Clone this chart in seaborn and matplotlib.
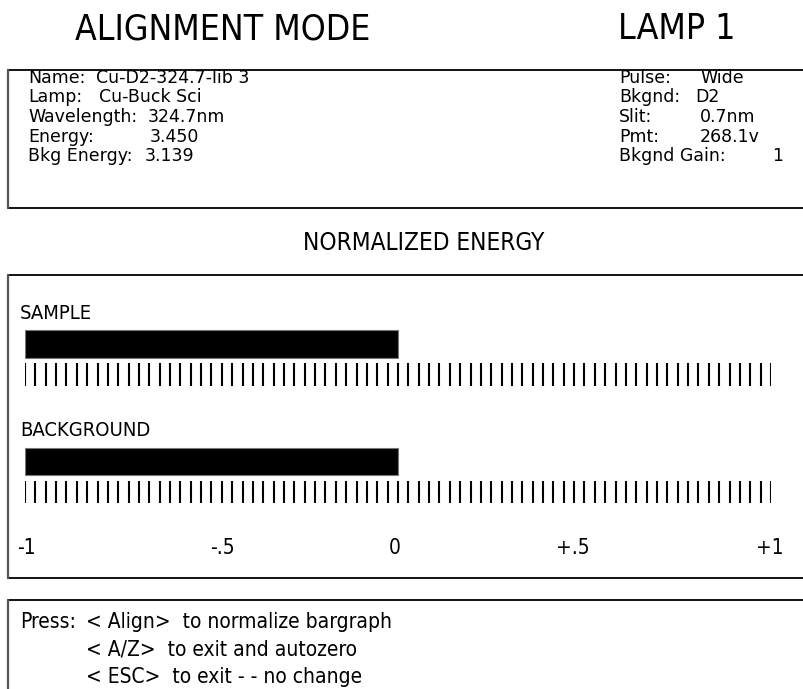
import pandas as pd
import seaborn as sns
import matplotlib.pyplot as plt
from matplotlib.lines import Line2D
from matplotlib import font_manager as fm

# values
channels = ["SAMPLE", "BACKGROUND"]
normalized = [0.0, 0.0]
scale_values = [-1, -0.5, 0, 0.5, 1]
scale_labels = ["-1", "-.5", "0", "+.5", "+1"]
n_divisions = 72

left_labels = ["Name:", "Lamp:", "Wavelength:", "Energy:", "Bkg Energy:"]
left_values = ["Cu-D2-324.7-lib 3", "Cu-Buck Sci", "324.7nm", "3.450", "3.139"]
right_labels = ["Pulse:", "Bkgnd:", "Slit:", "Pmt:", "Bkgnd Gain:"]
right_values = ["Wide", "D2", "0.7nm", "268.1v", "1"]

press_keys = ["< Align>", "< A/Z>", "< ESC>"]
press_actions = ["to normalize bargraph", "to exit and autozero", "to exit - - no change"]

sns.set_theme(style="white")
plt.rcParams['font.family'] = ['DejaVu Sans']
plt.rcParams['text.color'] = 'black'

# look for a condensed face for the narrow screen font
names = {f.name for f in fm.fontManager.ttflist}
cond_files = [f for f in fm.fontManager.ttflist
              if f.name == "DejaVu Sans" and "ondensed" in f.fname]
if "Liberation Sans Narrow" in names:
    narrow = dict(family="Liberation Sans Narrow")
elif cond_files:
    narrow = dict(family="DejaVu Sans", fontstretch="condensed")
else:
    narrow = dict(family="Lato")
wide = dict(family="DejaVu Sans")

W, H = 804, 689
fig = plt.figure(figsize=(W / 100, H / 100), dpi=100)
fig.patch.set_facecolor("white")

def fx(x):
    return x / W

def fy(y):
    return 1 - y / H

def hline(x0, x1, y):
    fig.add_artist(Line2D([fx(x0), fx(x1)], [fy(y), fy(y)], color="black", lw=1.3))

def vline(x, y0, y1):
    fig.add_artist(Line2D([fx(x), fx(x)], [fy(y0), fy(y1)], color="#555555", lw=1.6))

# header
fig.text(fx(75), fy(29), "ALIGNMENT MODE", fontsize=25.5, va="center", **narrow)
fig.text(fx(618), fy(29), "LAMP 1", fontsize=25.5, va="center", **narrow)

# info box
hline(8, 804, 70)
hline(8, 804, 208)
vline(8, 70, 208)
left_x = [96, 99, 148, 150, 145]
right_x = [700, 695, 700, 700, 772]
for i in range(len(left_labels)):
    y = 78 + i * 19.5
    fig.text(fx(28), fy(y), left_labels[i], fontsize=12.5, va="center", **wide)
    fig.text(fx(left_x[i]), fy(y), left_values[i], fontsize=12.5, va="center", **wide)
    fig.text(fx(619), fy(y), right_labels[i], fontsize=12.5, va="center", **wide)
    fig.text(fx(right_x[i]), fy(y), right_values[i], fontsize=12.5, va="center", **wide)

fig.text(fx(424), fy(243), "NORMALIZED ENERGY", fontsize=17.5, va="center", ha="center", **narrow)

# bargraph box
hline(8, 804, 275)
hline(8, 804, 578)
vline(8, 275, 578)

ax = fig.add_axes([fx(25), fy(570), (771 - 25) / W, 280 / H])
df = pd.DataFrame({"channel": channels, "span": [v + 1 for v in normalized]})
sns.barplot(data=df, x="span", y="channel", orient="h", color="black",
            width=0.236, saturation=1, ax=ax, edgecolor="#777777", linewidth=0.8)
ax.set_xlim(0, 2)
ax.set_ylim(1.923, -0.46)
ax.axis("off")

ticks = [2 * k / n_divisions for k in range(n_divisions + 1)]
for row, name in enumerate(channels):
    ax.vlines(ticks, row + 0.163, row + 0.357, color="black", lw=1.5)
    ax.text(-0.013, row - 0.26, name, fontsize=14.5, va="center", ha="left", **narrow)

label_pos = [-0.995, -0.472, -0.008, 0.469, 0.997]
for p, lab in zip(label_pos, scale_labels):
    ax.text(p + 1, 1.736, lab, fontsize=15, va="center", ha="center", **narrow)

# key help box
hline(8, 804, 600)
vline(8, 600, 689)
fig.text(fx(20), fy(622), "Press:", fontsize=15, va="center", **narrow)
for i in range(len(press_keys)):
    y = 622 + i * 27.5
    fig.text(fx(86), fy(y), press_keys[i] + "  " + press_actions[i], fontsize=15, va="center", **narrow)

plt.savefig("out.png", dpi=100)
